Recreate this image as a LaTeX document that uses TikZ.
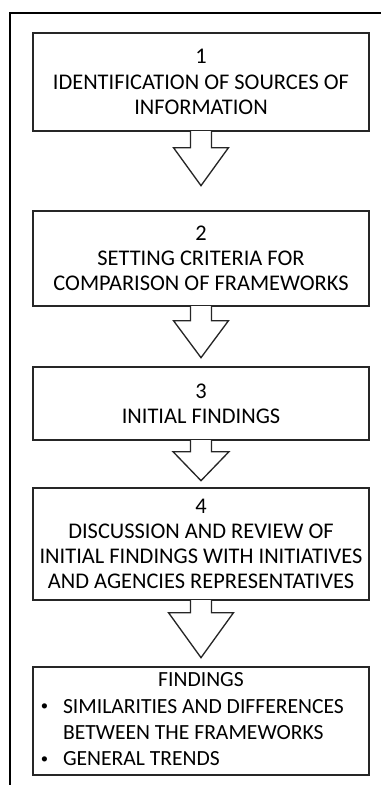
\documentclass[tikz,border=0pt]{standalone}
\usepackage{fontspec}
\setmainfont{Carlito}

\tikzset{
  stage/.style={draw=black!85, line width=1pt, fill=white, minimum width=252pt, minimum height={0.75*#1},
    align=center, inner sep=0pt, font=\fontsize{16.8}{18.9}\selectfont},
  flowarrow/.style={draw=black!85, line width=1pt, fill=white, line join=miter},
}

% block arrow below a box: node, shaft length, head length, head half width
\newcommand{\blockarrow}[4]{%
  \path[flowarrow] (#1.south) ++(-10.5,-0.6) -- ++(0,#2+0.6) -- ++(-#4+10.5,0) -- ++(#4,#3)
    -- ++(#4,-#3) -- ++(-#4+10.5,0) -- ++(0,-#2-0.6);}
\newcommand{\findbullet}{\raisebox{2pt}{\fontsize{11}{11}\selectfont\textbullet}}

\begin{document}
\begin{tikzpicture}[x=0.75pt, y=-0.75pt]

	\useasboundingbox (0,0) rectangle (381,785);

	% outer frame (cut at right and bottom)
	\draw[line width=1.5pt] (10,785) -- (10,13) -- (381,13);

	\node[stage=98] (s1) at (201,82) {1\\IDENTIFICATION OF SOURCES OF\\INFORMATION};
	\node[stage=95] (s2) at (201,258.5) {2\\SETTING CRITERIA FOR\\COMPARISON OF FRAMEWORKS};
	\node[stage=73] (s3) at (201,403.5) {3\\INITIAL FINDINGS};
	\node[stage=112] (s4) at (201,544) {4\\DISCUSSION AND REVIEW OF\\INITIAL FINDINGS WITH INITIATIVES\\AND AGENCIES REPRESENTATIVES};
	\node[stage=108, font=\fontsize{16.2}{19.8}\selectfont] (s5) at (201,721) {%
		\begin{tabular}{@{\hspace{4.5pt}}p{16.5pt}@{}p{228pt}@{}}
		\multicolumn{2}{c}{FINDINGS}\\
		\findbullet & SIMILARITIES AND DIFFERENCES\\
		 & BETWEEN THE FRAMEWORKS\\
		\findbullet & GENERAL TRENDS
		\end{tabular}};

	\blockarrow{s1}{16}{38}{27.5}
	\blockarrow{s2}{14}{37}{27.5}
	\blockarrow{s3}{11}{29}{28}
	\blockarrow{s4}{12}{45}{32.5}

\end{tikzpicture}
\end{document}
